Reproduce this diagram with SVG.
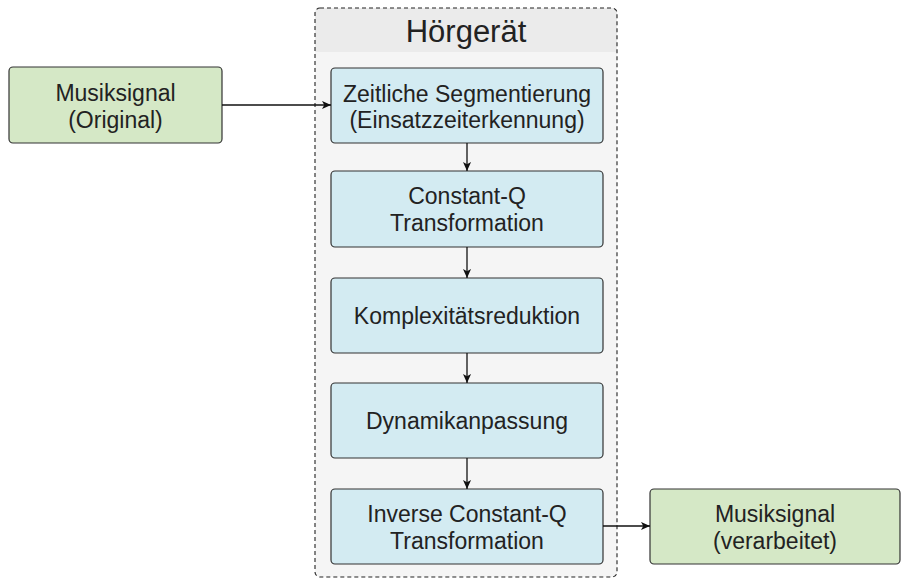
<svg xmlns="http://www.w3.org/2000/svg" width="913" height="581" viewBox="0 0 913 581">
<style>
.t{font-family:"Liberation Sans",Arial,sans-serif;font-size:23px;fill:#222;text-anchor:middle}
.blue{fill:#d3ebf2;stroke:#333;stroke-width:1.2}
.green{fill:#d5e8c6;stroke:#333;stroke-width:1.2}
.c{stroke:#111;stroke-width:1.3;fill:none;marker-end:url(#ah)}
</style>
<defs>
<marker id="ah" viewBox="0 0 10 10" refX="10" refY="5" markerWidth="9" markerHeight="9" markerUnits="userSpaceOnUse" orient="auto">
<path d="M0,0.5 L10,5 L0,9.5 L2.5,5 Z" fill="#111"/>
</marker>
</defs>
<rect width="913" height="581" fill="#fff"/>
<g id="hoergeraet">
<rect x="315" y="8" width="302" height="569" rx="5" fill="#f5f5f5"/>
<path d="M320,8 H612 A5,5 0 0 1 617,13 V52 H315 V13 A5,5 0 0 1 320,8 Z" fill="#ebebeb"/>
<rect x="315" y="8" width="302" height="569" rx="5" fill="none" stroke="#222" stroke-width="1.1" stroke-dasharray="4,3"/>
<text x="466" y="42" class="t" style="font-size:31px">Hörgerät</text>
</g>
<g id="orig">
<rect x="9" y="67" width="213" height="76" rx="4" class="green"/>
<text x="115.5" y="101" class="t">Musiksignal</text>
<text x="115.5" y="128" class="t">(Original)</text>
</g>
<g id="seg">
<rect x="331" y="68" width="272" height="75" rx="4" class="blue"/>
<text x="467" y="102" class="t">Zeitliche Segmentierung</text>
<text x="467" y="128" class="t">(Einsatzzeiterkennung)</text>
</g>
<g id="cqt">
<rect x="331" y="171" width="272" height="76" rx="4" class="blue"/>
<text x="467" y="204" class="t">Constant-Q</text>
<text x="467" y="231" class="t">Transformation</text>
</g>
<g id="komp">
<rect x="331" y="278" width="272" height="75" rx="4" class="blue"/>
<text x="467" y="324" class="t">Komplexitätsreduktion</text>
</g>
<g id="dyn">
<rect x="331" y="383" width="272" height="75" rx="4" class="blue"/>
<text x="467" y="429" class="t">Dynamikanpassung</text>
</g>
<g id="icqt">
<rect x="331" y="489" width="272" height="75" rx="4" class="blue"/>
<text x="467" y="522" class="t">Inverse Constant-Q</text>
<text x="467" y="549" class="t">Transformation</text>
</g>
<g id="proc">
<rect x="650" y="489" width="250" height="75" rx="4" class="green"/>
<text x="775" y="522" class="t">Musiksignal</text>
<text x="775" y="549" class="t">(verarbeitet)</text>
</g>
<g id="connectors">
<path class="c" d="M222,105 H331"/>
<path class="c" d="M467,143 V171"/>
<path class="c" d="M467,247 V278"/>
<path class="c" d="M467,353 V383"/>
<path class="c" d="M467,458 V489"/>
<path class="c" d="M603,526 H650"/>
</g>
</svg>
